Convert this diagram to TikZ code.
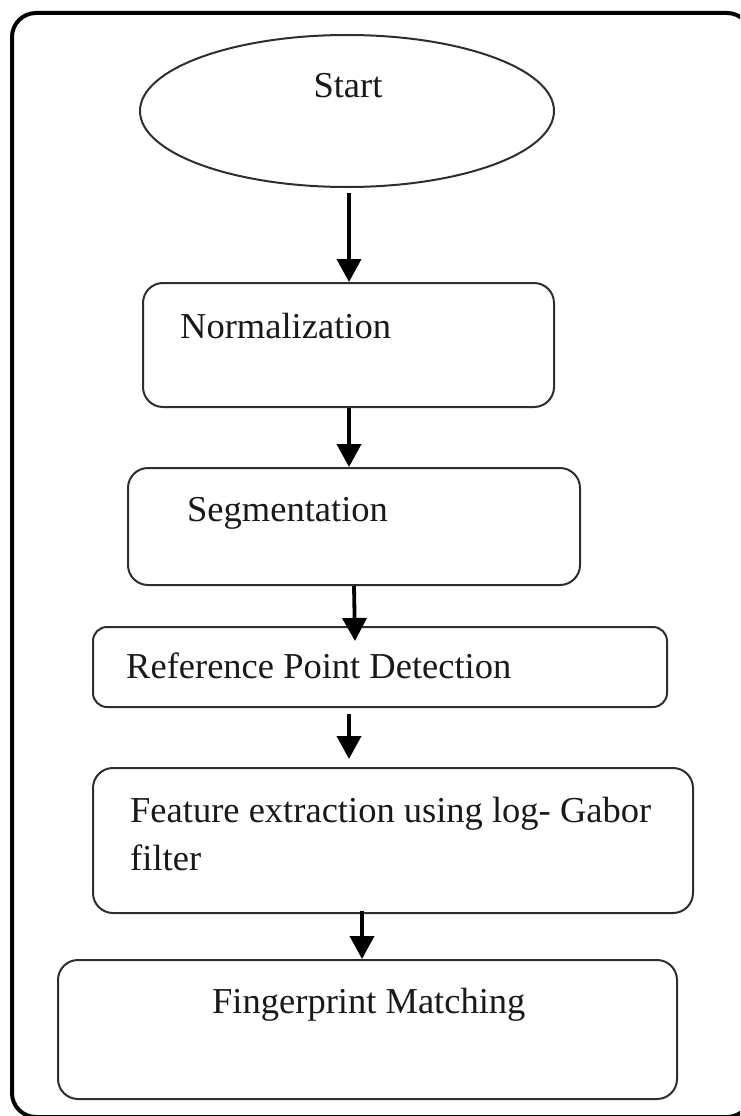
\documentclass[tikz,border=0pt]{standalone}
\usepackage{fontspec}
\setmainfont{Liberation Serif}
\usetikzlibrary{arrows.meta,shapes.geometric,calc}
\begin{document}
\begin{tikzpicture}[x=1pt,y=-1pt,
  box/.style={draw=black!82,line width=2pt,rounded corners=20pt,inner sep=0pt},
  lbl/.style={font=\fontsize{36.5}{48}\selectfont,text=black!90,inner sep=0pt,anchor=base west},
  flow/.style={line width=3.8pt,-{Triangle[length=23pt,width=24pt]}}]
\useasboundingbox (0,0) rectangle (740,1116);
\clip (0,0) rectangle (740,1116);
\draw[line width=4pt,rounded corners=24pt] (12,13) rectangle (751,1117);
\node[ellipse,draw=black!82,line width=2pt,inner sep=0pt,minimum width=414pt,minimum height=152pt] (start) at (347,111) {};
\node[lbl,anchor=base] (tstart) at (348,97) {Start};
\node[box,minimum width=411pt,minimum height=124pt] (norm) at (348.5,345) {};
\node[lbl] (tnorm) at (180,338) {Normalization};
\node[box,minimum width=452pt,minimum height=117pt] (seg) at (354,526.5) {};
\node[lbl] (tseg) at (187,521) {Segmentation};
\node[box,minimum width=574pt,minimum height=80pt,rounded corners=14pt] (ref) at (380,667) {};
\node[lbl] (tref) at (126,678) {Reference Point Detection};
\node[box,minimum width=600pt,minimum height=145pt] (feat) at (393,840.5) {};
\node[lbl] (tfeat) at (130,822) {Feature extraction using log- Gabor};
\node[lbl] (tfeat2) at (130,870) {filter};
\node[box,minimum width=619pt,minimum height=139pt] (fp) at (367.5,1029.5) {};
\node[lbl] (tfp) at (212,1013) {Fingerprint Matching};
\draw[flow] ($(start.south)+(2,5)$) -- ($(norm.north)+(0.5,0)$);
\draw[flow] ($(norm.south)+(0.5,0)$) -- ($(seg.north)+(-5,0)$);
\draw[flow] (seg.south) -- ($(seg.south)+(1,55)$);
\draw[flow] ($(ref.south)+(-31,6)$) -- ($(feat.north)+(-44,-8)$);
\draw[flow] ($(feat.south)+(-31,-3)$) -- ($(fp.north)+(-5.5,0)$);
\end{tikzpicture}
\end{document}
